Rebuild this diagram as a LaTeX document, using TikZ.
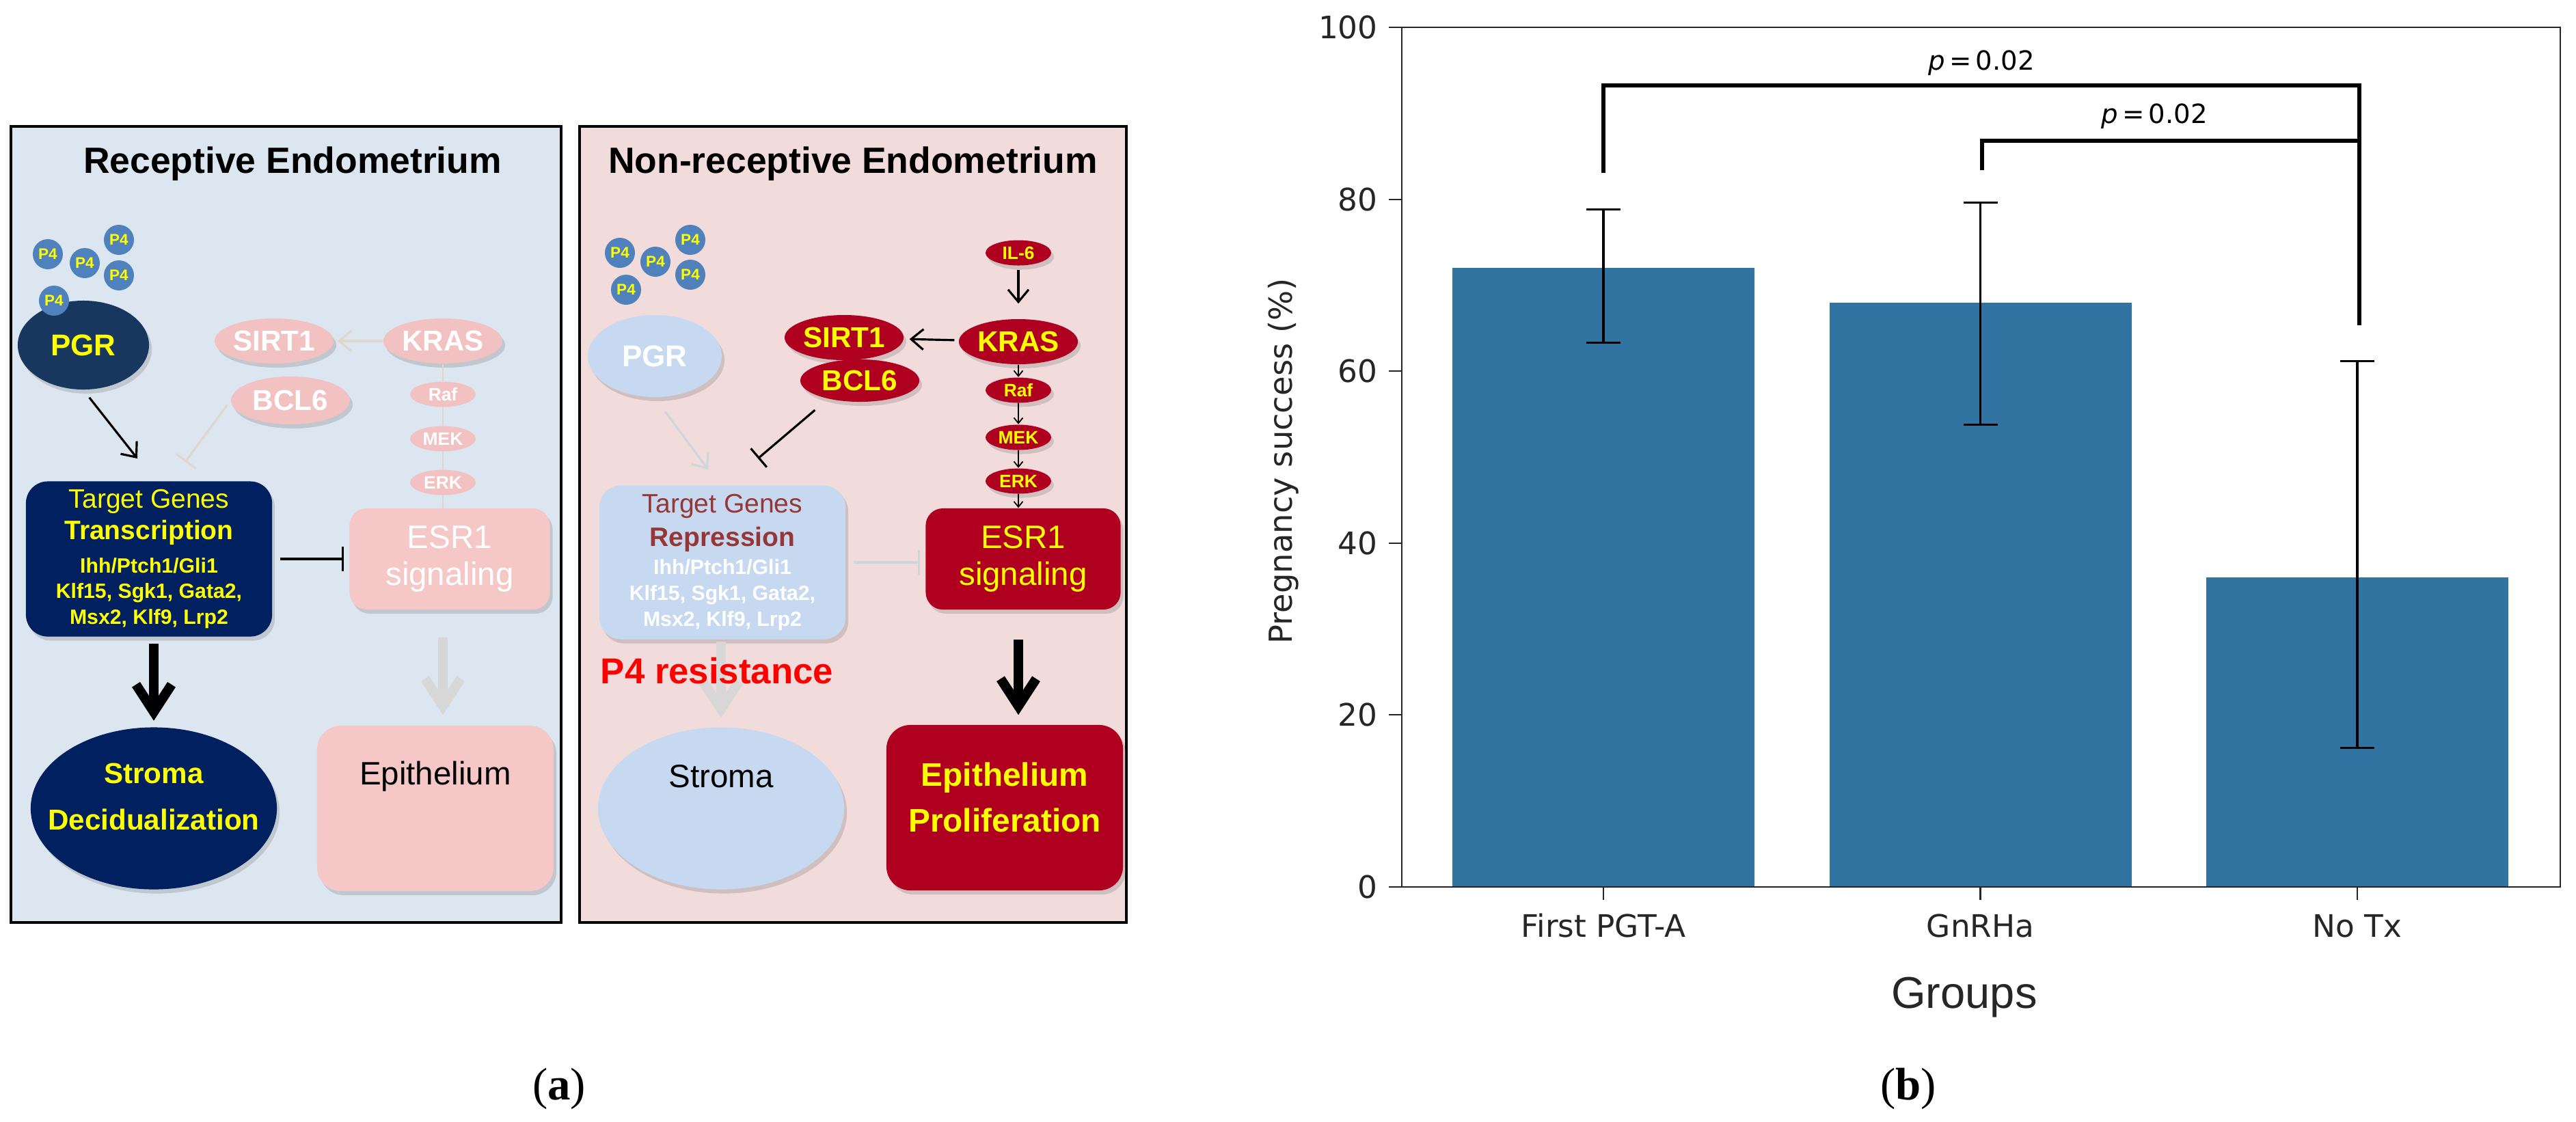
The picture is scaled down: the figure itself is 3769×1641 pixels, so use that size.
\documentclass[tikz,border=0pt]{standalone}
\usepackage{fontspec}
\setmainfont{Liberation Sans}
\newfontfamily\plotfont{DejaVu Sans}
\newfontfamily\capfont{Liberation Serif}
\usetikzlibrary{shapes.geometric,arrows.meta,shadows}

\definecolor{recbg}{RGB}{220,230,241}
\definecolor{nonbg}{RGB}{242,220,219}
\definecolor{navy}{RGB}{0,32,96}
\definecolor{pgrnavy}{RGB}{23,55,94}
\definecolor{lpink}{RGB}{242,193,193}
\definecolor{esrpink}{RGB}{245,199,199}
\definecolor{dred}{RGB}{176,0,32}
\definecolor{lblue}{RGB}{198,217,241}
\definecolor{pfour}{RGB}{79,129,189}
\definecolor{genered}{RGB}{149,55,53}
\definecolor{faint}{RGB}{215,215,215}
\definecolor{faintb}{RGB}{224,214,204}
\definecolor{faintc}{RGB}{206,214,219}
\definecolor{barblue}{RGB}{50,116,161}
\definecolor{axisgray}{RGB}{38,38,38}
\definecolor{yel}{RGB}{255,255,0}

\tikzset{
  panel/.style={draw=black, line width=1.1pt},
  ptitle/.style={font=\bfseries\fontsize{15.2}{18}\selectfont},
  pfourdot/.style={circle, fill=pfour, minimum size=4.4mm, inner sep=0pt, text=yel, font=\bfseries\fontsize{6.4}{7}\selectfont},
  mol/.style={ellipse, inner sep=0pt, minimum width=17.4mm, minimum height=6.6mm, font=\bfseries\fontsize{12}{14}\selectfont},
  kin/.style={ellipse, inner sep=0pt, minimum width=9.6mm, minimum height=3.7mm, font=\bfseries\fontsize{7.5}{8}\selectfont},
  genebox/.style={rounded corners=3.2mm, inner sep=0pt, minimum width=36mm, minimum height=22.7mm, align=center, font=\bfseries\fontsize{8.6}{10.8}\selectfont},
  esrbox/.style={rounded corners=2.5mm, inner sep=0pt, minimum height=14.8mm, align=center, font=\fontsize{13.5}{15.5}\selectfont},
  cellbox/.style={rounded corners=3.5mm, minimum width=34.6mm, minimum height=24.2mm},
  cellell/.style={ellipse, minimum width=36mm, minimum height=23.7mm},
  nodeshadow/.style={drop shadow={opacity=0.3, shadow xshift=0.4mm, shadow yshift=-0.6mm}},
  act/.style={-{Straight Barb[length=1.8mm,width=3mm]}, line width=0.9pt},
  inh/.style={-{Bar[width=3.6mm]}, line width=0.9pt},
  bigarrow/.style={-{Straight Barb[length=4mm,width=5.2mm]}, line width=4pt},
  kinarrow/.style={-{Straight Barb[length=0.8mm,width=1.3mm]}, line width=0.5pt},
  axisline/.style={line width=0.6pt, draw=axisgray},
  errbar/.style={line width=0.9pt, draw=black},
  sig/.style={line width=1.6pt, draw=black}
}

\begin{document}
\begin{tikzpicture}[x=0.01cm, y=-0.01cm]
\useasboundingbox (0,0) rectangle (3769,1641);
\fill[white] (0,0) rectangle (3769,1641);

% receptive endometrium
\draw[panel, fill=recbg] (16,185) rectangle (821,1350);
\node[ptitle] (lTitle) at (428,240) {Receptive Endometrium};

\node[ellipse, fill=pgrnavy, minimum width=19.2mm, minimum height=13mm, inner sep=0pt, text=yel, font=\bfseries\fontsize{12.5}{14}\selectfont, nodeshadow] (lPGR) at (122,505) {PGR};
\foreach \px/\py [count=\k] in {70/372,124/385,174/351,174/403,79/440}
  \node[pfourdot] (lP\k) at (\px,\py) {P4};

\node[mol, fill=lpink, text=white, nodeshadow] (lSIRT) at (401,499) {SIRT1};
\node[mol, fill=lpink, text=white, nodeshadow] (lKRAS) at (648,499) {KRAS};
\node[mol, fill=lpink, text=white, minimum height=7mm, nodeshadow] (lBCL) at (425,586) {BCL6};
\node[kin, fill=lpink, text=white] (lRaf) at (648,577) {Raf};
\node[kin, fill=lpink, text=white] (lMEK) at (648,642) {MEK};
\node[kin, fill=lpink, text=white] (lERK) at (648,706) {ERK};

\node[genebox, fill=navy, text=yel, nodeshadow] (lTG) at (218,818) {{\mdseries\fontsize{11.1}{13}\selectfont Target Genes}\\[2.4pt]{\fontsize{11.1}{13}\selectfont Transcription}\\[3pt]Ihh/Ptch1/Gli1\\Klf15, Sgk1, Gata2,\\Msx2, Klf9, Lrp2};
\node[esrbox, fill=esrpink, text=white, minimum width=29.3mm, nodeshadow] (lESR) at (658,818) {ESR1\\signaling};

\node[cellell, fill=navy, nodeshadow] (lStr) at (225,1183) {};
\node[text=yel, align=center, font=\bfseries\fontsize{12}{14}\selectfont] (lStrT) at (225,1166) {Stroma\\[5.3pt]Decidualization};
\node[cellbox, fill=esrpink, nodeshadow] (lEpi) at (637,1183) {};
\node[font=\fontsize{13.5}{16}\selectfont] (lEpiT) at (637,1136) {Epithelium};

\coordinate (lPGRtip) at (201,671);
\coordinate (lBCLtip) at (271,676);
\draw[act, shorten <=1.4mm] (lPGR.south) -- (lPGRtip);
\draw[act, draw=faintb, shorten >=0.5mm] (lKRAS) -- (lSIRT);
\draw[inh, draw=faintb, shorten <=0.8mm] (lBCL.west) -- (lBCLtip);
\draw[draw=faintb, line width=0.6pt] (lKRAS) -- (lRaf) (lRaf) -- (lMEK) (lMEK) -- (lERK) (lERK) -- (lERK |- lESR.north);
\draw[inh, shorten <=1.1mm, shorten >=0.8mm] (lTG) -- (lESR);
\draw[bigarrow, shorten <=1mm, shorten >=0.9mm] (lTG.south -| lStr.north) -- (lStr.north);
\draw[bigarrow, draw=faint, shorten <=4mm, shorten >=1.5mm] (lESR.south -| lKRAS) -- (lEpi.north -| lKRAS);

% non-receptive endometrium
\draw[panel, fill=nonbg] (848,185) rectangle (1648,1350);
\node[ptitle] (rTitle) at (1248,240) {Non-receptive Endometrium};

\foreach \px/\py [count=\k] in {907/370,959/383,1010/351,1010/402,916/424}
  \node[pfourdot] (rP\k) at (\px,\py) {P4};
\node[ellipse, fill=lblue, minimum width=19.6mm, minimum height=12mm, inner sep=0pt, text=white, font=\bfseries\fontsize{12.5}{14}\selectfont, nodeshadow] (rPGR) at (958,521) {PGR};

\node[kin, fill=dred, text=yel, nodeshadow] (rIL) at (1490,370) {IL-6};
\node[mol, fill=dred, text=yel, nodeshadow] (rKRAS) at (1490,500) {KRAS};
\node[mol, fill=dred, text=yel, nodeshadow] (rSIRT) at (1235,494) {SIRT1};
\node[mol, fill=dred, text=yel, minimum height=6.2mm, nodeshadow] (rBCL) at (1258,557) {BCL6};
\node[kin, fill=dred, text=yel, nodeshadow] (rRaf) at (1490,571) {Raf};
\node[kin, fill=dred, text=yel, nodeshadow] (rMEK) at (1490,640) {MEK};
\node[kin, fill=dred, text=yel, nodeshadow] (rERK) at (1490,704) {ERK};

\node[genebox, fill=lblue, text=white, minimum height=22.5mm, nodeshadow] (rTG) at (1057,823) {{\mdseries\color{genered}\fontsize{11.1}{13}\selectfont Target Genes}\\[2.9pt]{\color{genered}\fontsize{11.1}{13}\selectfont Repression}\\[0.9pt]Ihh/Ptch1/Gli1\\Klf15, Sgk1, Gata2,\\Msx2, Klf9, Lrp2};
\node[esrbox, fill=dred, text=yel, minimum width=28.5mm, nodeshadow] (rESR) at (1497,818) {ESR1\\signaling};

\node[cellell, fill=lblue, nodeshadow] (rStr) at (1055,1183) {};
\node[font=\fontsize{13.5}{16}\selectfont] (rStrT) at (1055,1136) {Stroma};
\node[cellbox, fill=dred, nodeshadow] (rEpi) at (1470,1182) {};
\node[text=yel, align=center, font=\bfseries\fontsize{13.6}{16}\selectfont] (rEpiT) at (1470,1167) {Epithelium\\[3.2pt]Proliferation};

\coordinate (rPGRtip) at (1036,687);
\coordinate (rBCLtip) at (1109,671);
\draw[act, shorten <=0.6mm, shorten >=2.2mm] (rIL) -- (rKRAS);
\draw[act, shorten <=0.6mm, shorten >=0.8mm] (rKRAS) -- (rSIRT);
\draw[kinarrow] (rKRAS) -- (rRaf);
\draw[kinarrow] (rRaf) -- (rMEK);
\draw[kinarrow] (rMEK) -- (rERK);
\draw[kinarrow] (rERK) -- (rERK |- rESR.north);
\draw[inh, shorten <=2.5mm] (rBCL.210) -- (rBCLtip);
\draw[act, draw=faintc, shorten <=2.6mm] (rPGR.south) -- (rPGRtip);
\draw[inh, draw=faintc, shorten <=1.1mm, shorten >=0.8mm] (rTG) -- (rTG -| rESR.west);
\draw[bigarrow, draw=faint, shorten <=0.3mm, shorten >=1.3mm] (rTG.south -| rStr.north) -- (rStr.north);
\node[text=red, font=\bfseries\fontsize{15}{18}\selectfont] (rRes) at (1049,982) {P4 resistance};
\draw[bigarrow, shorten <=4.3mm, shorten >=1.4mm] (rESR.south -| rKRAS) -- (rEpi.north -| rKRAS);

\node[font=\capfont\fontsize{19}{22}\selectfont] (capA) at (818,1593) {(\textbf{a})};

% pregnancy success chart
\begin{scope}[font=\plotfont\fontsize{12.9}{15}\selectfont, text=axisgray]
\foreach \i/\val/\lo/\hi/\grp in {0/72/63.3/78.8/First PGT-A,1/68/53.8/79.6/GnRHa,2/36/16.2/61.2/No Tx}{
  \pgfmathsetmacro{\cx}{2346+551.5*\i}
  \fill[barblue] ({\cx-221},1298) rectangle ({\cx+221},{1298-12.58*\val});
  \draw[errbar] (\cx,{1298-12.58*\lo}) -- (\cx,{1298-12.58*\hi});
  \draw[errbar] ({\cx-25},{1298-12.58*\lo}) -- ({\cx+25},{1298-12.58*\lo});
  \draw[errbar] ({\cx-25},{1298-12.58*\hi}) -- ({\cx+25},{1298-12.58*\hi});
  \draw[axisline] (\cx,1298) -- (\cx,1317);
  \node (xl\i) at (\cx,1355) {\grp};
}
\foreach \v in {0,20,...,100}{
  \draw[axisline] (2032,{1298-12.58*\v}) -- (2051,{1298-12.58*\v});
  \node[anchor=east] (yl\v) at (2028,{1298-12.58*\v}) {\v};
}
\draw[axisline] (2051,40) rectangle (3746,1298);
\node[rotate=90, font=\plotfont\fontsize{13.2}{15}\selectfont] (ylab) at (1878,675) {Pregnancy success (\%)};
\node[font=\fontsize{18.5}{22}\selectfont] (xlab) at (2874,1460) {Groups};

\draw[sig] (2346,253) -- (2346,125) -- (3452,125) -- (3452,476);
\draw[sig] (2900,249) -- (2900,206) -- (3452,206);
\node[font=\plotfont\fontsize{11}{13}\selectfont, text=black] (pA) at (2899,92) {{\itshape p}\,=\,0.02};
\node[font=\plotfont\fontsize{11}{13}\selectfont, text=black] (pB) at (3152,170) {{\itshape p}\,=\,0.02};
\end{scope}

\node[font=\capfont\fontsize{19}{22}\selectfont] (capB) at (2792,1593) {(\textbf{b})};
\end{tikzpicture}
\end{document}
